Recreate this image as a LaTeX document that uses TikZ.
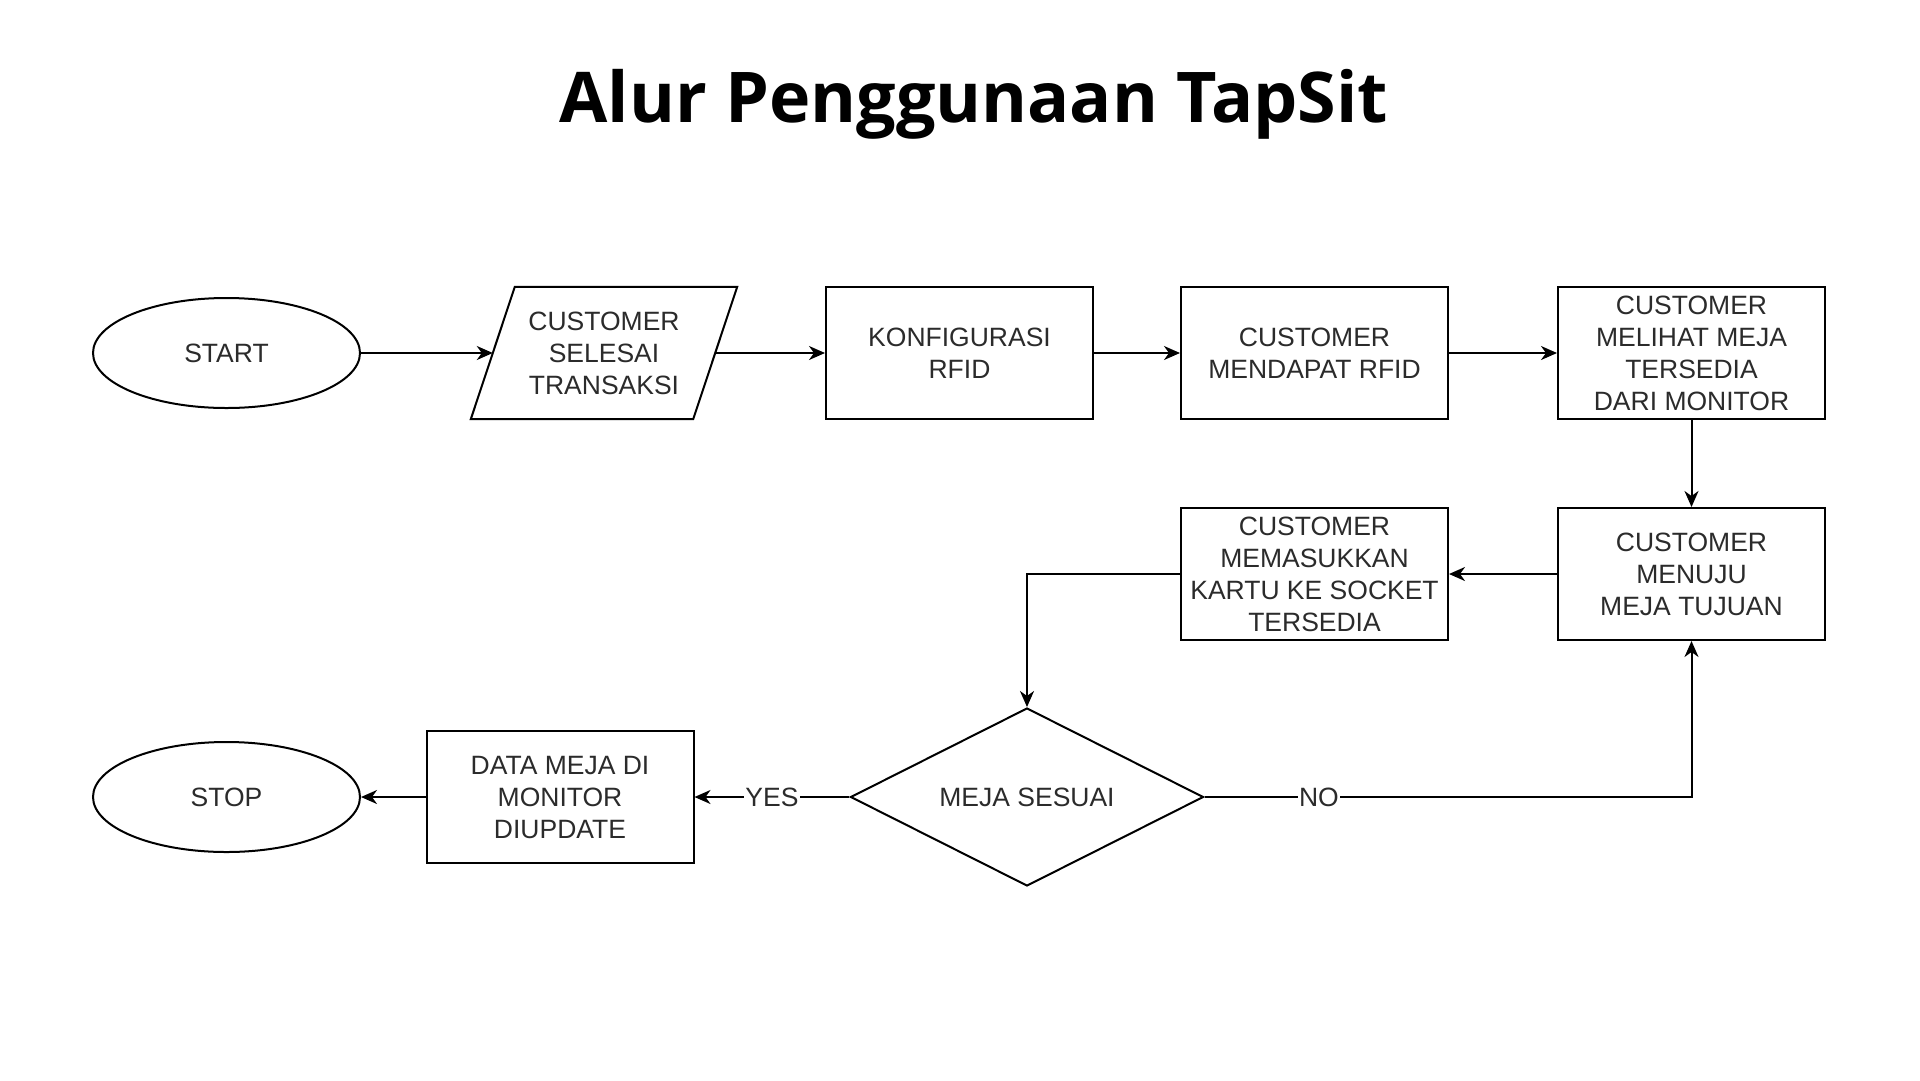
\documentclass[tikz,border=0pt]{standalone}
\usepackage{fontspec}
\setmainfont{Liberation Sans}
\newfontfamily\titlefont{Open Sans}
\usetikzlibrary{shapes.geometric,arrows.meta,calc}
\definecolor{txt}{HTML}{2B2B2B}
\newcommand{\boxfont}{\fontsize{26.5}{32}\selectfont}
\begin{document}
\begin{tikzpicture}[x=1pt,y=-1pt,
  every node/.style={text=txt},
  box/.style={draw=black, line width=2pt, minimum width=267pt, minimum height=132pt, inner sep=0pt, align=center, font=\boxfont},
  term/.style={ellipse, draw=black, line width=2pt, minimum width=267pt, minimum height=110pt, inner sep=0pt, font=\boxfont},
  plain/.style={minimum width=222pt, minimum height=132pt, inner sep=0pt, align=center, font=\boxfont},
  decision/.style={diamond, aspect=2, draw=black, line width=2pt, minimum width=353pt, minimum height=178pt, inner sep=0pt, font=\boxfont},
  arr/.style={draw=black, line width=2pt, -{Stealth[length=16pt,width=14pt,inset=5pt]}},
  lbl/.style={fill=white, inner sep=1.5pt, font=\boxfont}]
\useasboundingbox (0,0) rectangle (1920,1080);
\fill[white] (0,0) rectangle (1920,1080);

\node[anchor=base, text=black, font=\titlefont\bfseries\fontsize{70}{84}\selectfont] (title) at (974,122) {Alur Penggunaan TapSit};

\node[term] (start) at (226.5,353) {START};
\node[plain] (para) at (604,353) {CUSTOMER\\SELESAI\\TRANSAKSI};
\draw[line width=2pt] ($(para.north west)+(22,0)$) -- ($(para.north east)+(22,0)$) -- ($(para.south east)+(-22,0)$) -- ($(para.south west)+(-22,0)$) -- cycle;
\node[box] (konf) at (959.5,353) {KONFIGURASI\\RFID};
\node[box] (mend) at (1314.5,353) {CUSTOMER\\MENDAPAT RFID};
\node[box] (meli) at (1691.5,353) {CUSTOMER\\MELIHAT MEJA\\TERSEDIA\\DARI MONITOR};
\node[box] (menu) at (1691.5,574) {CUSTOMER\\MENUJU\\MEJA TUJUAN};
\node[box] (mema) at (1314.5,574) {CUSTOMER\\MEMASUKKAN\\KARTU KE SOCKET\\TERSEDIA};
\node[decision] (dec) at (1027,797) {MEJA SESUAI};
\node[box] (data) at (560,797) {DATA MEJA DI\\MONITOR\\DIUPDATE};
\node[term] (stop) at (226.5,797) {STOP};

\draw[arr] (start) -- (para);
\draw[arr] (para) -- (konf);
\draw[arr] (konf) -- (mend);
\draw[arr] (mend) -- (meli);
\draw[arr] (meli) -- (menu);
\draw[arr] (menu) -- (mema);
\draw[arr] (mema.west) -| (dec.north);
\draw[arr] (dec) -- node[lbl] {YES} (data);
\draw[arr] (data) -- (stop);
\draw[arr] (dec.east) -| node[lbl, pos=0.1175] {NO} (menu.south);
\end{tikzpicture}
\end{document}
